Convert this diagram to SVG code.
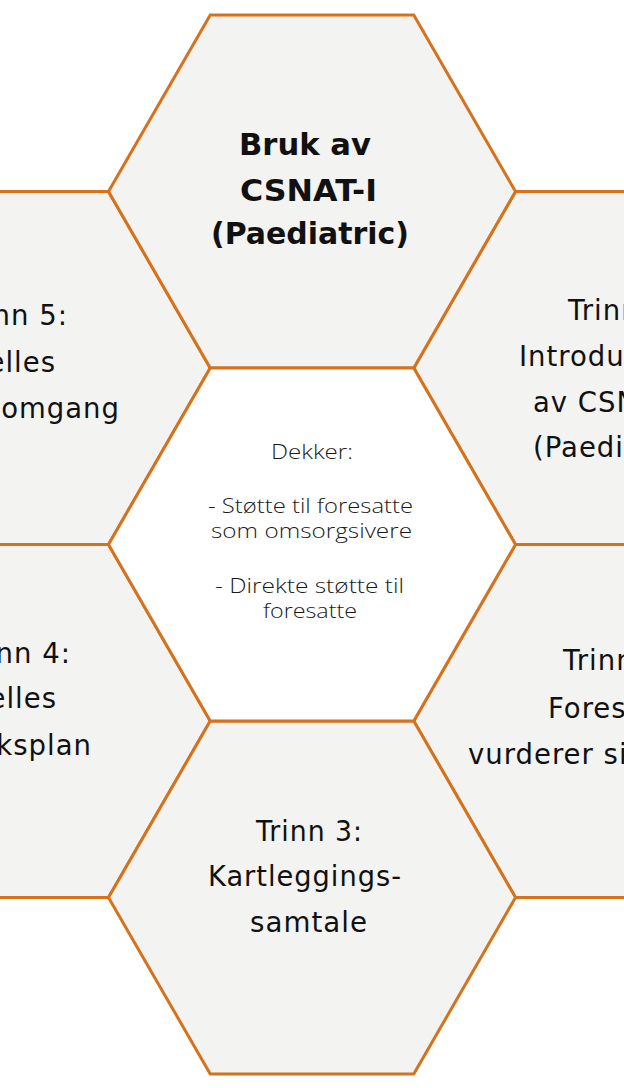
<svg xmlns="http://www.w3.org/2000/svg" xmlns:xlink="http://www.w3.org/1999/xlink" width="624" height="1088" viewBox="0 0 624 1088">
  <style>
    .hex { fill: #f3f3f2; stroke: #d6711c; stroke-width: 3; stroke-linejoin: miter; }
    .hexc { fill: #ffffff; stroke: #d6711c; stroke-width: 3; }
    .t { font-family: "DejaVu Sans", "Liberation Sans", sans-serif; font-size: 27.5px; fill: #111111; letter-spacing: 1px; }
    .tb { font-family: "DejaVu Sans", "Liberation Sans", sans-serif; font-size: 30px; font-weight: bold; fill: #111111; }
    .tc { font-family: "Open Sans", "DejaVu Sans", sans-serif; font-size: 19.5px; font-weight: 300; fill: #1a1a1a; }
  </style>
  <defs>
    <polygon id="hx" points="-203.5,0 -101.75,-176.5 101.75,-176.5 203.5,0 101.75,176.5 -101.75,176.5"/>
  </defs>
  <rect width="624" height="1088" fill="#ffffff"/>

  <g id="node-trinn5">
    <use xlink:href="#hx" href="#hx" class="hex" transform="translate(6.75,368)"/>
    <text class="t" text-anchor="end" x="68" y="325">Trinn 5:</text>
    <text class="t" text-anchor="end" x="56" y="372">Felles</text>
    <text class="t" text-anchor="end" x="120" y="418">gjennomgang</text>
  </g>

  <g id="node-trinn4">
    <use xlink:href="#hx" href="#hx" class="hex" transform="translate(6.75,721)"/>
    <text class="t" text-anchor="end" x="71" y="663">Trinn 4:</text>
    <text class="t" text-anchor="end" x="57" y="708">Felles</text>
    <text class="t" text-anchor="end" x="92" y="755">tiltaksplan</text>
  </g>

  <g id="node-trinn1">
    <use xlink:href="#hx" href="#hx" class="hex" transform="translate(617.25,368)"/>
    <text class="t" x="568" y="320">Trinn 1:</text>
    <text class="t" x="519" y="366">Introduksjon</text>
    <text class="t" x="533" y="412">av CSNAT-I</text>
    <text class="t" x="533" y="457">(Paediatric)</text>
  </g>

  <g id="node-trinn2">
    <use xlink:href="#hx" href="#hx" class="hex" transform="translate(617.25,721)"/>
    <text class="t" x="563" y="670">Trinn 2:</text>
    <text class="t" x="548" y="718">Foresatte</text>
    <text class="t" x="468" y="764">vurderer sine behov</text>
  </g>

  <g id="node-top">
    <use xlink:href="#hx" href="#hx" class="hex" transform="translate(312,191.5)"/>
    <text class="tb" x="239" y="155" textLength="132" lengthAdjust="spacingAndGlyphs">Bruk av</text>
    <text class="tb" x="240" y="200.5" textLength="137" lengthAdjust="spacingAndGlyphs">CSNAT-I</text>
    <text class="tb" x="211" y="244" textLength="198" lengthAdjust="spacingAndGlyphs">(Paediatric)</text>
  </g>

  <g id="node-bottom">
    <use xlink:href="#hx" href="#hx" class="hex" transform="translate(312,897.5)"/>
    <text class="t" x="256" y="841" textLength="107" lengthAdjust="spacingAndGlyphs">Trinn 3:</text>
    <text class="t" x="208" y="886" textLength="194" lengthAdjust="spacingAndGlyphs">Kartleggings-</text>
    <text class="t" x="250" y="932" textLength="118" lengthAdjust="spacingAndGlyphs">samtale</text>
  </g>

  <g id="node-center">
    <use xlink:href="#hx" href="#hx" class="hexc" transform="translate(312,544.5)"/>
    <text class="tc" x="271" y="459" textLength="82" lengthAdjust="spacingAndGlyphs">Dekker:</text>
    <text class="tc" x="208" y="513" textLength="205" lengthAdjust="spacingAndGlyphs">- Støtte til foresatte</text>
    <text class="tc" x="211" y="538" textLength="201" lengthAdjust="spacingAndGlyphs">som omsorgsivere</text>
    <text class="tc" x="215" y="593" textLength="189" lengthAdjust="spacingAndGlyphs">- Direkte støtte til</text>
    <text class="tc" x="263" y="618" textLength="94" lengthAdjust="spacingAndGlyphs">foresatte</text>
  </g>
</svg>
